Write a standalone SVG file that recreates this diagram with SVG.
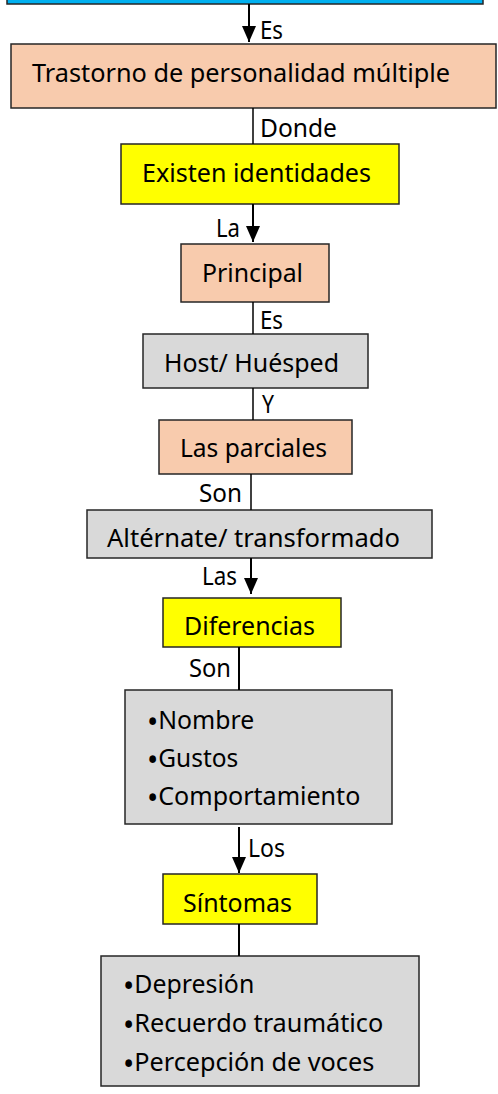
<svg xmlns="http://www.w3.org/2000/svg" width="498" height="1094" viewBox="0 0 498 1094">
<style>
.box{stroke:#262626;stroke-width:1.5}
.blue{fill:#00B0F0}
.salmon{fill:#F8CBAD}
.yellow{fill:#FFFF00}
.gray{fill:#D9D9D9}
text{font-family:"Noto Sans","Open Sans",sans-serif;font-size:25px;fill:#000}
.b{font-size:30px}
.conn{stroke:#000;stroke-width:2;fill:none}
.thin{stroke-width:1.5}
</style>
<defs>
<marker id="arr" markerUnits="userSpaceOnUse" markerWidth="16" markerHeight="14" viewBox="0 0 16 14" refX="16" refY="7" orient="auto">
<path d="M0,0 L16,7 L0,14 Z" fill="#000"/>
</marker>
</defs>
<g id="n0"><rect class="box blue" x="7" y="-10" width="476" height="14"/></g>
<g id="n1"><rect class="box salmon" x="11" y="44" width="485" height="64"/>
<text x="32" y="82" textLength="418" lengthAdjust="spacingAndGlyphs">Trastorno de personalidad múltiple</text></g>
<g id="n2"><rect class="box yellow" x="121" y="144" width="278" height="60"/>
<text x="142" y="182" textLength="229" lengthAdjust="spacingAndGlyphs">Existen identidades</text></g>
<g id="n3"><rect class="box salmon" x="181" y="244" width="148" height="58"/>
<text x="202" y="282" textLength="101" lengthAdjust="spacingAndGlyphs">Principal</text></g>
<g id="n4"><rect class="box gray" x="143" y="334" width="225" height="54"/>
<text x="164" y="372" textLength="175" lengthAdjust="spacingAndGlyphs">Host/ Huésped</text></g>
<g id="n5"><rect class="box salmon" x="159" y="420" width="193" height="54"/>
<text x="180" y="457" textLength="147" lengthAdjust="spacingAndGlyphs">Las parciales</text></g>
<g id="n6"><rect class="box gray" x="87" y="510" width="345" height="48"/>
<text x="107" y="547" textLength="293" lengthAdjust="spacingAndGlyphs">Altérnate/ transformado</text></g>
<g id="n7"><rect class="box yellow" x="163" y="598" width="178" height="49"/>
<text x="184" y="635" textLength="131" lengthAdjust="spacingAndGlyphs">Diferencias</text></g>
<g id="n8"><rect class="box gray" x="125" y="690" width="267" height="134"/>
<text x="147" y="729"><tspan class="b" dy="4">•</tspan><tspan dy="-4" textLength="96" lengthAdjust="spacingAndGlyphs">Nombre</tspan></text>
<text x="147" y="767"><tspan class="b" dy="4">•</tspan><tspan dy="-4" textLength="80" lengthAdjust="spacingAndGlyphs">Gustos</tspan></text>
<text x="147" y="805"><tspan class="b" dy="4">•</tspan><tspan dy="-4" textLength="202" lengthAdjust="spacingAndGlyphs">Comportamiento</tspan></text></g>
<g id="n9"><rect class="box yellow" x="163" y="874" width="154" height="50"/>
<text x="183" y="912" textLength="109" lengthAdjust="spacingAndGlyphs">Síntomas</text></g>
<g id="n10"><rect class="box gray" x="101" y="956" width="318" height="130"/>
<text x="123" y="993"><tspan class="b" dy="4">•</tspan><tspan dy="-4" textLength="120" lengthAdjust="spacingAndGlyphs">Depresión</tspan></text>
<text x="123" y="1032"><tspan class="b" dy="4">•</tspan><tspan dy="-4" textLength="249" lengthAdjust="spacingAndGlyphs">Recuerdo traumático</tspan></text>
<text x="123" y="1071"><tspan class="b" dy="4">•</tspan><tspan dy="-4" textLength="240" lengthAdjust="spacingAndGlyphs">Percepción de voces</tspan></text></g>
<g id="connectors">
<line class="conn" x1="249" y1="4" x2="249" y2="42" marker-end="url(#arr)"/>
<text x="260" y="39" textLength="23" lengthAdjust="spacingAndGlyphs">Es</text>
<line class="conn thin" x1="253" y1="108" x2="253" y2="144"/>
<text x="260" y="137" textLength="77" lengthAdjust="spacingAndGlyphs">Donde</text>
<line class="conn" x1="253" y1="204" x2="253" y2="242" marker-end="url(#arr)"/>
<text x="216" y="237" textLength="24" lengthAdjust="spacingAndGlyphs">La</text>
<line class="conn thin" x1="253" y1="302" x2="253" y2="334"/>
<text x="260" y="329" textLength="23" lengthAdjust="spacingAndGlyphs">Es</text>
<line class="conn thin" x1="253" y1="388" x2="253" y2="420"/>
<text x="262" y="413" textLength="12" lengthAdjust="spacingAndGlyphs">Y</text>
<line class="conn thin" x1="251" y1="474" x2="251" y2="510"/>
<text x="199" y="502" textLength="43" lengthAdjust="spacingAndGlyphs">Son</text>
<line class="conn" x1="251" y1="558" x2="251" y2="594" marker-end="url(#arr)"/>
<text x="202" y="585" textLength="35" lengthAdjust="spacingAndGlyphs">Las</text>
<line class="conn" x1="239" y1="647" x2="239" y2="690"/>
<text x="189" y="677" textLength="42" lengthAdjust="spacingAndGlyphs">Son</text>
<line class="conn" x1="239" y1="827" x2="239" y2="873" marker-end="url(#arr)"/>
<text x="248" y="857" textLength="37" lengthAdjust="spacingAndGlyphs">Los</text>
<line class="conn" x1="239" y1="924" x2="239" y2="956"/>
</g>
</svg>
